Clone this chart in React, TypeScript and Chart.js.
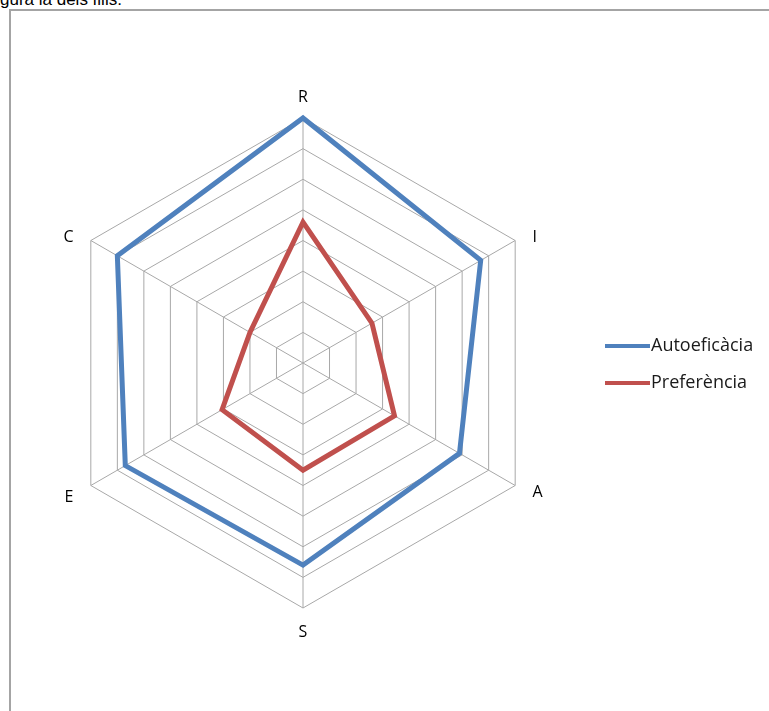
import React, { useEffect, useRef } from 'react';
import { Chart, registerables } from 'chart.js';

Chart.register(...registerables);

const categories = ['R', 'I', 'A', 'S', 'E', 'C'];
const autoeficacia = [8, 6.7, 5.9, 6.6, 6.7, 7.0];
const preferencia = [4.6, 2.6, 3.45, 3.5, 3.05, 2.0];
const seriesNames = ['Autoeficàcia', 'Preferència'];
const seriesColors = ['#4f81bd', '#c0504d'];
const scaleMin = 0;
const scaleMax = 8;
const scaleStep = 1;

// axis label placement relative to the scale's outer ring
const labelGap = [21, 20, 20, 24, 20, 20];
const labelDy = [0, 7, -3, 0, 2, 7];

const axisLabelPlugin = {
  id: 'axisLabels',
  afterDraw(chart: any) {
    const scale = chart.scales.r;
    const ctx = chart.ctx;
    const labels: string[] = chart.data.labels;
    const n = labels.length;
    ctx.save();
    ctx.fillStyle = '#000000';
    ctx.font = '16px "Open Sans"';
    ctx.textBaseline = 'middle';
    labels.forEach((lab, i) => {
      const p = scale.getPointPosition(i, scale.drawingArea + labelGap[i]);
      const deg = (i * 360) / n;
      ctx.textAlign = deg === 0 || deg === 180 ? 'center' : deg < 180 ? 'left' : 'right';
      ctx.fillText(lab, p.x, p.y + labelDy[i]);
    });
    ctx.restore();
  },
};

const legendPlugin = {
  id: 'sideLegend',
  afterDraw(chart: any) {
    const ctx = chart.ctx;
    const x0 = 605;
    const y0 = 346;
    const gap = 37;
    const len = 45;
    ctx.save();
    chart.data.datasets.forEach((ds: any, i: number) => {
      const y = y0 + i * gap;
      ctx.strokeStyle = ds.borderColor;
      ctx.lineWidth = 4;
      ctx.lineCap = 'butt';
      ctx.beginPath();
      ctx.moveTo(x0, y);
      ctx.lineTo(x0 + len, y);
      ctx.stroke();
      ctx.fillStyle = '#1a1a1a';
      ctx.font = '18px "Open Sans"';
      ctx.textBaseline = 'middle';
      ctx.textAlign = 'left';
      ctx.fillText(ds.label, x0 + len + 1, y);
    });
    ctx.restore();
  },
};

export default function App() {
  const ref = useRef<HTMLCanvasElement | null>(null);

  useEffect(() => {
    if (!ref.current) return;
    const chart = new Chart(ref.current, {
      type: 'radar',
      data: {
        labels: categories,
        datasets: [
          {
            label: seriesNames[0],
            data: autoeficacia,
            borderColor: seriesColors[0],
            backgroundColor: 'transparent',
            borderWidth: 5,
            fill: false,
            pointRadius: 0,
            pointHitRadius: 0,
          },
          {
            label: seriesNames[1],
            data: preferencia,
            borderColor: seriesColors[1],
            backgroundColor: 'transparent',
            borderWidth: 5,
            fill: false,
            pointRadius: 0,
            pointHitRadius: 0,
          },
        ],
      },
      options: {
        responsive: false,
        animation: false,
        devicePixelRatio: 1,
        layout: { padding: { left: 20, right: 183, top: 118, bottom: 103 } },
        plugins: {
          legend: { display: false },
          tooltip: { enabled: false },
        },
        scales: {
          r: {
            min: scaleMin,
            max: scaleMax,
            ticks: { stepSize: scaleStep, display: false },
            grid: { color: '#a8a8a8', lineWidth: 1 },
            angleLines: { color: '#a8a8a8', lineWidth: 1 },
            pointLabels: { display: false },
          },
        },
      },
      plugins: [axisLabelPlugin, legendPlugin],
    });
    return () => chart.destroy();
  }, []);

  return (
    <div
      style={{
        position: 'fixed',
        left: 0,
        top: 0,
        width: '100vw',
        height: '100vh',
        overflow: 'hidden',
        background: '#ffffff',
      }}
    >
      <div
        style={{
          position: 'absolute',
          left: 0,
          top: -10,
          fontFamily: '"Liberation Sans", Arial, sans-serif',
          fontSize: 17,
          color: '#000',
          whiteSpace: 'nowrap',
        }}
      >
        gura la dels fills.
      </div>
      <div
        style={{
          position: 'absolute',
          left: 9,
          top: 9,
          width: 820,
          height: 760,
          borderTop: '2px solid #a4a4a4',
          borderLeft: '2px solid #a4a4a4',
          boxSizing: 'border-box',
        }}
      />
      <canvas
        ref={ref}
        width={769}
        height={711}
        style={{ position: 'absolute', left: 0, top: 0, width: 769, height: 711 }}
      />
    </div>
  );
}
